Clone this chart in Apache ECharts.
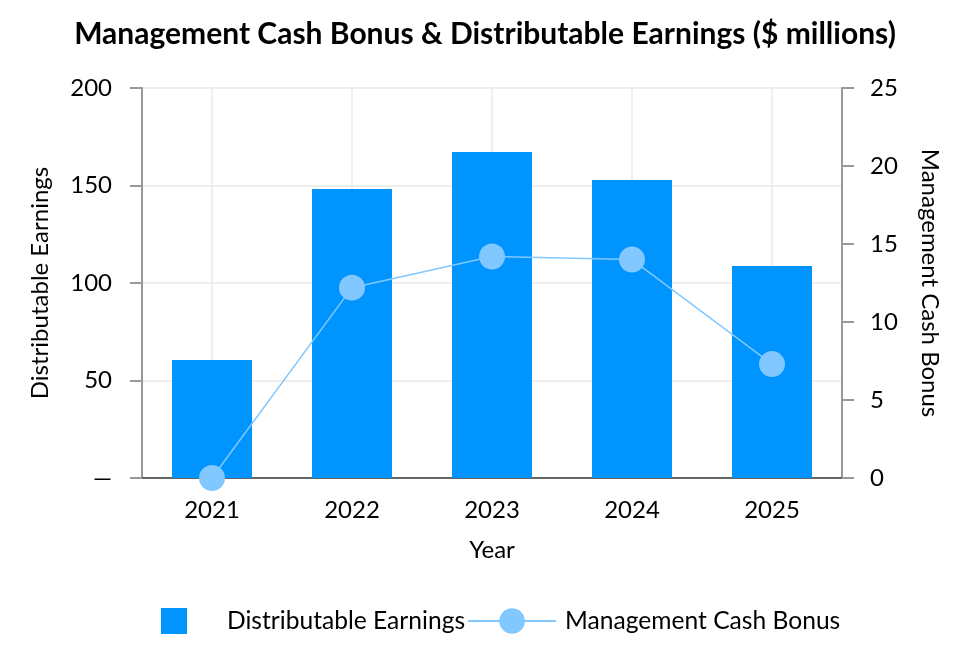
<!DOCTYPE html>
<html>
<head>
<meta charset="utf-8">
<script src="https://cdn.jsdelivr.net/npm/echarts@6/dist/echarts.min.js"></script>
<style>
  html, body { margin: 0; padding: 0; background: #fff; }
  #main { width: 970px; height: 666px; }
</style>
</head>
<body>
<div id="main"></div>
<script>
// data
var years = ['2021', '2022', '2023', '2024', '2025'];
var earnings = [60.5, 148.2, 167.2, 152.8, 108.7];   // Distributable Earnings, left axis
var bonus = [0, 12.2, 14.2, 14.0, 7.3];             // Management Cash Bonus, right axis

var font = 'Lato';
var barColor = '#0094FF';
var lineColor = '#80C8FF';

var myChart = echarts.init(document.getElementById('main'));

var option = {
  animation: false,
  textStyle: { fontFamily: font },
  title: {
    text: 'Management Cash Bonus & Distributable Earnings ($ millions)',
    left: 'center',
    top: 14,
    textStyle: { fontFamily: font, fontWeight: 'bold', fontSize: 30, color: '#000' }
  },
  legend: {
    bottom: 24,
    left: 153,
    itemWidth: 88,
    itemHeight: 32,
    itemGap: 2,
    textStyle: { fontFamily: font, fontSize: 24.6, color: '#000', padding: [0, 0, 0, 4] },
    data: [
      // square with empty margin so it stays 26px inside the 32px box
      { name: 'Distributable Earnings', icon: 'path://M0,0L0,0M3,3H29V29H3ZM32,32L32,32' },
      { name: 'Management Cash Bonus' }
    ]
  },
  grid: { left: 142, right: 128, top: 88, bottom: 188 },
  xAxis: {
    type: 'category',
    data: years,
    name: 'Year',
    nameLocation: 'middle',
    nameGap: 60,
    nameTextStyle: { fontSize: 24, color: '#000' },
    axisLine: { lineStyle: { color: '#666', width: 2 } },
    axisTick: { alignWithLabel: true, length: 10, lineStyle: { color: '#777', width: 2 } },
    axisLabel: { fontSize: 24, color: '#000', margin: 20 },
    splitLine: { show: true, alignWithLabel: true, lineStyle: { color: '#e8e8e8', width: 1.5 } }
  },
  yAxis: [
    {
      type: 'value',
      min: 0, max: 200, interval: 50,
      name: 'Distributable Earnings',
      nameLocation: 'middle',
      nameGap: 90,
      nameTextStyle: { fontSize: 24, color: '#000' },
      axisLine: { show: true, lineStyle: { color: '#999', width: 2 } },
      axisTick: { show: true, length: 12, lineStyle: { color: '#999', width: 2 } },
      axisLabel: {
        fontSize: 24, color: '#000', margin: 30,
        formatter: function (v) { return v === 0 ? '—' : v; }
      },
      splitLine: { lineStyle: { color: '#e8e8e8', width: 1.5 } }
    },
    {
      type: 'value',
      min: 0, max: 25, interval: 5,
      name: 'Management Cash Bonus',
      nameLocation: 'middle',
      nameGap: 76,
      nameRotate: -90,
      nameTextStyle: { fontSize: 24, color: '#000' },
      position: 'right',
      axisLine: { show: true, lineStyle: { color: '#999', width: 2 } },
      axisTick: { show: true, length: 12, lineStyle: { color: '#999', width: 2 } },
      axisLabel: { fontSize: 24, color: '#000', margin: 28 },
      splitLine: { show: false }
    }
  ],
  series: [
    {
      name: 'Distributable Earnings',
      type: 'bar',
      yAxisIndex: 0,
      barWidth: 80,
      itemStyle: { color: barColor },
      data: earnings
    },
    {
      name: 'Management Cash Bonus',
      type: 'line',
      yAxisIndex: 1,
      symbol: 'circle',
      symbolSize: 26,
      showAllSymbol: true,
      lineStyle: { color: lineColor, width: 1.5 },
      itemStyle: { color: lineColor },
      data: bonus
    }
  ]
};

myChart.setOption(option);
</script>
</body>
</html>
